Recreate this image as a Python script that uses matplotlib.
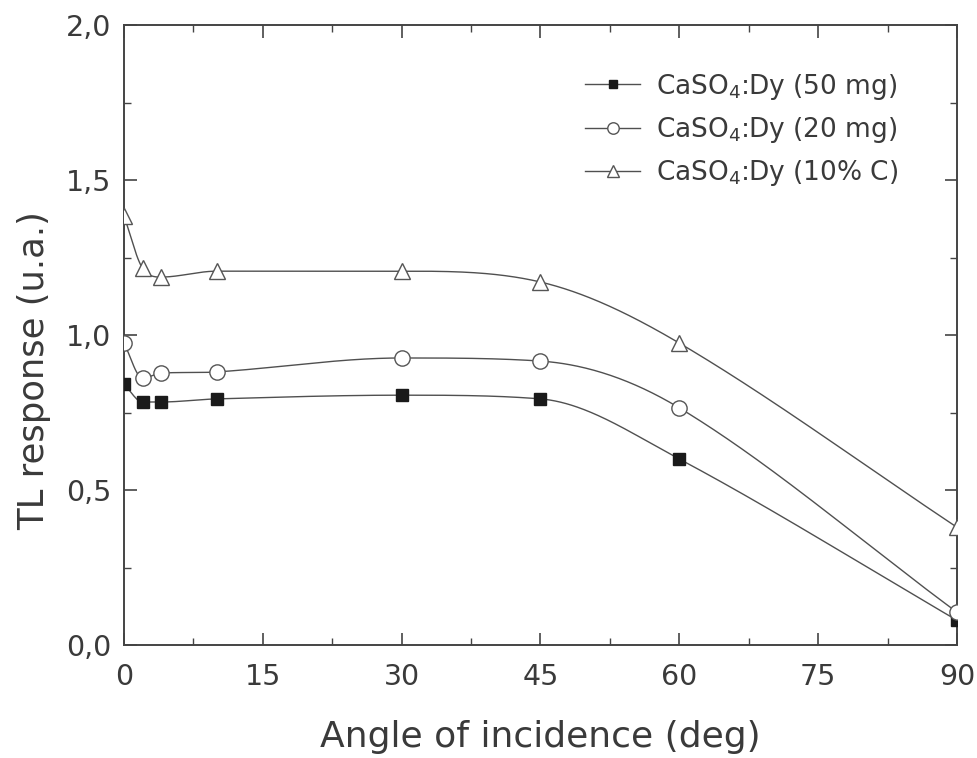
import numpy as np
import matplotlib
matplotlib.use("Agg")
import matplotlib.pyplot as plt
from matplotlib.ticker import FuncFormatter, MultipleLocator

angles = [0, 2, 4, 10, 30, 45, 60, 90]
resp_50mg = [0.842, 0.784, 0.784, 0.794, 0.806, 0.794, 0.600, 0.080]
resp_20mg = [0.974, 0.861, 0.877, 0.881, 0.926, 0.916, 0.765, 0.106]
resp_10C = [1.384, 1.216, 1.187, 1.206, 1.206, 1.171, 0.974, 0.380]
labels = ["CaSO$_4$:Dy (50 mg)", "CaSO$_4$:Dy (20 mg)", "CaSO$_4$:Dy (10% C)"]


def smooth(x, y, xs):
    x = np.asarray(x, float); y = np.asarray(y, float)
    h = np.diff(x); d = np.diff(y) / h
    n = len(x); m = np.zeros(n)
    for k in range(1, n - 1):
        if d[k - 1] * d[k] > 0:
            c = (y[k + 1] - y[k - 1]) / (x[k + 1] - x[k - 1])
            lim = 3 * min(abs(d[k - 1]), abs(d[k]))
            m[k] = np.sign(c) * min(abs(c), lim)
    m[0] = d[0]; m[-1] = d[-1]
    idx = np.clip(np.searchsorted(x, xs) - 1, 0, n - 2)
    t = (xs - x[idx]) / h[idx]
    h00 = 2 * t**3 - 3 * t**2 + 1; h10 = t**3 - 2 * t**2 + t
    h01 = -2 * t**3 + 3 * t**2; h11 = t**3 - t**2
    return h00 * y[idx] + h10 * h[idx] * m[idx] + h01 * y[idx + 1] + h11 * h[idx] * m[idx + 1]


fig = plt.figure(figsize=(9.78, 7.58), dpi=100)
ax = fig.add_axes([0.1268, 0.149, 0.8517, 0.818])
lc = "#505050"
tc = "#3a3a3a"
xs = np.linspace(0, 90, 600)
styles = [
    dict(marker="s", mfc="#1a1a1a", mec="#1a1a1a", ms=8),
    dict(marker="o", mfc="white", mec="#555555", ms=11, mew=1.0),
    dict(marker="^", mfc="white", mec="#555555", ms=12, mew=1.0),
]
handles = []
for ys, st, lab in zip([resp_50mg, resp_20mg, resp_10C], styles, labels):
    ax.plot(xs, smooth(angles, ys, xs), color=lc, lw=1.0, zorder=2)
    ax.plot(angles, ys, ls="none", zorder=3, **st)
    h, = ax.plot([], [], color=lc, lw=1.0, **{k: v for k, v in st.items() if k != "ms"}, ms=st["ms"] * 0.75)
    handles.append(h)

ax.set_xlim(0, 90)
ax.set_ylim(0, 2.0)
ax.xaxis.set_major_locator(MultipleLocator(15))
ax.xaxis.set_minor_locator(MultipleLocator(7.5))
ax.yaxis.set_major_locator(MultipleLocator(0.5))
ax.yaxis.set_minor_locator(MultipleLocator(0.25))
ax.yaxis.set_major_formatter(FuncFormatter(lambda v, p: f"{v:.1f}".replace(".", ",")))
ax.tick_params(which="both", direction="in", top=True, right=True, colors="#444444", labelcolor=tc)
ax.tick_params(which="major", length=9, width=1.2, labelsize=20.5)
ax.tick_params(which="minor", length=5, width=1.0)
ax.tick_params(axis="x", which="major", pad=13)
ax.tick_params(axis="y", which="major", pad=9)
for s in ax.spines.values():
    s.set_color("#444444"); s.set_linewidth(1.4)
ax.set_xlabel("Angle of incidence (deg)", fontsize=26, color=tc, labelpad=21)
ax.set_ylabel("TL response (u.a.)", fontsize=25.5, color=tc)
ax.yaxis.set_label_coords(-0.088, 0.4435)
leg = ax.legend(handles, labels, loc="upper right", bbox_to_anchor=(0.958, 0.963), frameon=False,
                fontsize=19, labelcolor=tc, handlelength=2.1, labelspacing=0.5, handletextpad=0.6)
fig.savefig("out.png", dpi=100, facecolor="white")
